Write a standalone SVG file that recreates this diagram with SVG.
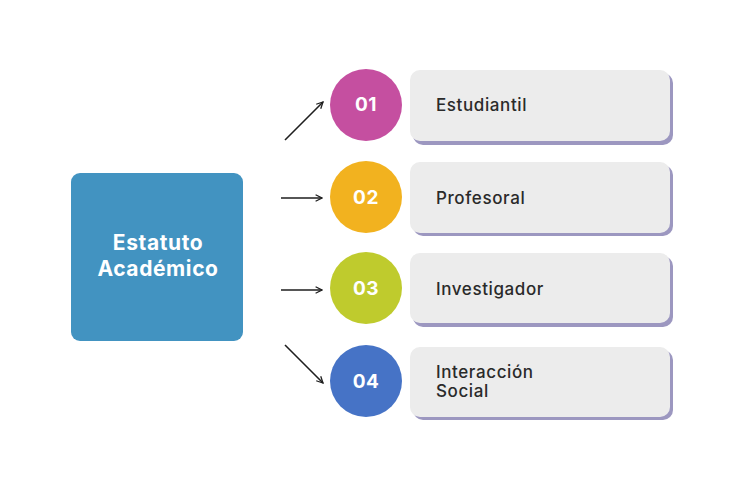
<svg xmlns="http://www.w3.org/2000/svg" width="741" height="486" viewBox="0 0 741 486">
<defs>
<style>
.card{fill:#ececec}
.shadow{fill:#9c97c0}
.lbl{font-family:Inter,"Noto Sans",sans-serif;font-size:17px;font-weight:500;fill:#2a2a2a;letter-spacing:0.6px}
.num{font-family:Inter,"Noto Sans",sans-serif;font-size:19px;font-weight:700;fill:#ffffff;letter-spacing:0.5px}
.head{font-family:Inter,"Noto Sans",sans-serif;font-size:21px;font-weight:700;fill:#ffffff;letter-spacing:0.6px}
.conn{stroke:#1e1e1e;stroke-width:1.6;fill:none}
</style>
<marker id="arr" viewBox="0 0 10 10" refX="9" refY="5" markerWidth="8" markerHeight="8" markerUnits="userSpaceOnUse" orient="auto">
<path d="M1,1 L9,5 L1,9" fill="none" stroke="#1e1e1e" stroke-width="1.6"/>
</marker>
</defs>
<rect width="741" height="486" fill="#ffffff"/>
<g id="estatuto">
<rect x="71" y="173" width="172" height="168" rx="9" fill="#4293c1"/>
<text class="head" x="158" y="250" text-anchor="middle">Estatuto</text>
<text class="head" x="158" y="276" text-anchor="middle">Académico</text>
</g>
<g id="connectors">
<line class="conn" x1="285" y1="140" x2="323" y2="102" marker-end="url(#arr)"/>
<line class="conn" x1="281" y1="198" x2="322" y2="198" marker-end="url(#arr)"/>
<line class="conn" x1="281" y1="290" x2="322" y2="290" marker-end="url(#arr)"/>
<line class="conn" x1="285" y1="345" x2="323" y2="383" marker-end="url(#arr)"/>
</g>
<g id="n01">
<rect class="shadow" x="413" y="73" width="260" height="72" rx="10"/>
<rect class="card" x="410" y="70" width="260" height="71" rx="10"/>
<circle cx="366" cy="105" r="36" fill="#c54fa0"/>
<text class="num" x="366" y="111" text-anchor="middle">01</text>
<text class="lbl" x="436" y="111">Estudiantil</text>
</g>
<g id="n02">
<rect class="shadow" x="413" y="165" width="260" height="71" rx="10"/>
<rect class="card" x="410" y="162" width="260" height="71" rx="10"/>
<circle cx="366" cy="197" r="36" fill="#f2b21f"/>
<text class="num" x="366" y="204" text-anchor="middle">02</text>
<text class="lbl" x="436" y="204">Profesoral</text>
</g>
<g id="n03">
<rect class="shadow" x="413" y="256" width="260" height="71" rx="10"/>
<rect class="card" x="410" y="253" width="260" height="70" rx="10"/>
<circle cx="366" cy="288" r="36" fill="#bfcb2d"/>
<text class="num" x="366" y="295" text-anchor="middle">03</text>
<text class="lbl" x="436" y="295">Investigador</text>
</g>
<g id="n04">
<rect class="shadow" x="413" y="350" width="260" height="70" rx="10"/>
<rect class="card" x="410" y="347" width="260" height="70" rx="10"/>
<circle cx="366" cy="381" r="36" fill="#4673c6"/>
<text class="num" x="366" y="388" text-anchor="middle">04</text>
<text class="lbl" x="436" y="378">Interacción</text>
<text class="lbl" x="436" y="397">Social</text>
</g>
</svg>
